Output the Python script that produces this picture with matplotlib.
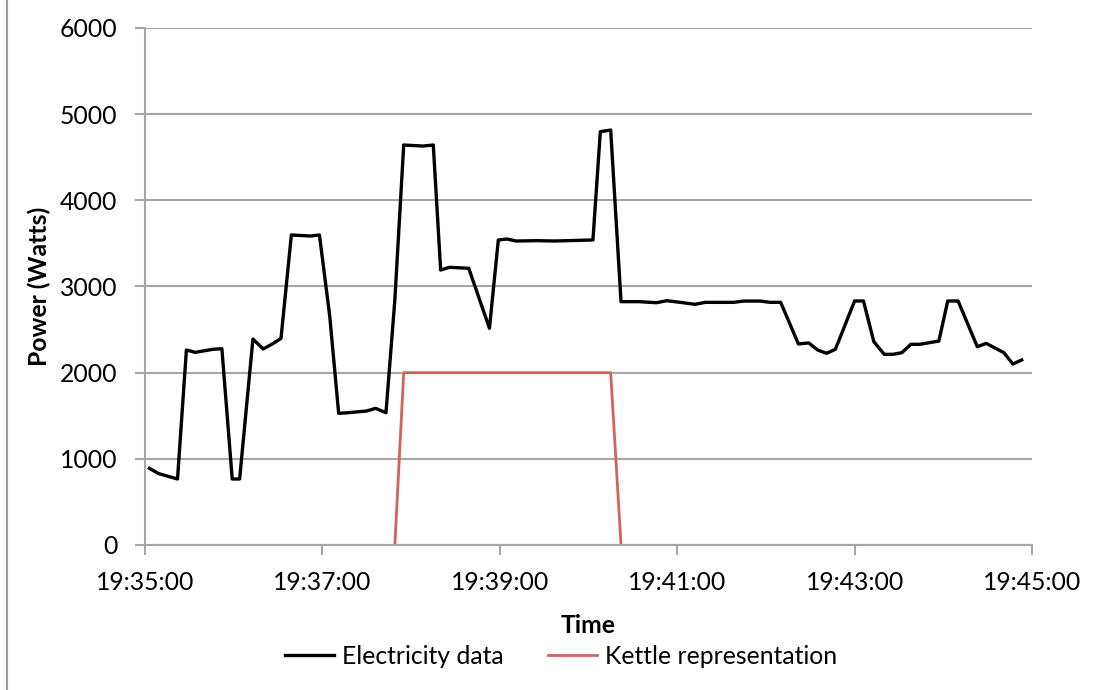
import matplotlib
matplotlib.use("Agg")
import matplotlib.pyplot as plt
import matplotlib.dates as mdates
from matplotlib.patches import Rectangle
import pandas as pd

######################################################################

elec_times = ["19:35:03", "19:35:09", "19:35:22", "19:35:28", "19:35:34", "19:35:46",
              "19:35:52", "19:35:59", "19:36:04", "19:36:13", "19:36:20", "19:36:26",
              "19:36:32", "19:36:39", "19:36:52", "19:36:58", "19:37:05", "19:37:11",
              "19:37:17", "19:37:30", "19:37:36", "19:37:43", "19:37:49", "19:37:55",
              "19:38:08", "19:38:15", "19:38:20", "19:38:26", "19:38:39", "19:38:53",
              "19:38:59", "19:39:05", "19:39:11", "19:39:25", "19:39:37", "19:40:03",
              "19:40:08", "19:40:15", "19:40:22", "19:40:34", "19:40:46", "19:40:53",
              "19:41:04", "19:41:12", "19:41:19", "19:41:38", "19:41:45", "19:41:56",
              "19:42:03", "19:42:10", "19:42:22", "19:42:29", "19:42:35", "19:42:41",
              "19:42:47", "19:43:00", "19:43:06", "19:43:13", "19:43:20", "19:43:26",
              "19:43:32", "19:43:38", "19:43:44", "19:43:57", "19:44:03", "19:44:10",
              "19:44:23", "19:44:29", "19:44:41", "19:44:47", "19:44:53"]
elec_watts = [890, 830, 766, 2263, 2236, 2271,
              2278, 766, 766, 2390, 2275, 2332,
              2398, 3598, 3586, 3598, 2650, 1528,
              1535, 1555, 1586, 1535, 2843, 4642,
              4630, 4642, 3191, 3223, 3211, 2515,
              3540, 3551, 3528, 3532, 3528, 3540,
              4797, 4816, 2824, 2824, 2812, 2835,
              2812, 2793, 2816, 2816, 2831, 2831,
              2816, 2816, 2333, 2345, 2263, 2225,
              2271, 2832, 2832, 2360, 2213, 2213,
              2232, 2329, 2329, 2367, 2832, 2832,
              2301, 2340, 2232, 2100, 2147]

# Idealised kettle load
kettle_times = ["19:37:49", "19:37:55", "19:40:15", "19:40:22"]
kettle_watts = [0, 2000, 2000, 0]

labels = ("Electricity data", "Kettle representation")
colors = ("black", "#D2625B")

######################################################################

def to_dt(ts):
    return pd.to_datetime(["2014-01-01 " + t for t in ts])

plt.rcParams['font.family'] = ['Lato', 'DejaVu Sans']
GRID = '#a6a6a6'
FS = 17.8

fig = plt.figure(figsize=(11.01, 6.9), dpi=100)
ax = fig.add_axes([145/1101, 1-545/690, 887/1101, 517/690])

ax.plot(to_dt(elec_times), elec_watts, color=colors[0], linewidth=2.4, label=labels[0], zorder=3)
ax.plot(to_dt(kettle_times), kettle_watts, color=colors[1], linewidth=2.0, label=labels[1], zorder=2)

# Axes:
ax.set_xlim(pd.Timestamp("2014-01-01 19:35:00"), pd.Timestamp("2014-01-01 19:45:00"))
ax.set_ylim(0, 6000)
ax.set_yticks(range(0, 6001, 1000))
ax.xaxis.set_major_locator(mdates.MinuteLocator(byminute=range(35, 46, 2)))
ax.xaxis.set_major_formatter(mdates.DateFormatter('%H:%M:%S'))
ax.yaxis.grid(True, color=GRID, linewidth=1.5)
ax.set_axisbelow(True)
for side in ('top', 'right'):
    ax.spines[side].set_visible(False)
for side in ('left', 'bottom'):
    ax.spines[side].set_color(GRID)
    ax.spines[side].set_linewidth(1.5)
ax.tick_params(axis='both', colors=GRID, width=1.5, length=7, labelsize=FS, labelcolor='black')
ax.tick_params(axis='x', pad=12)
ax.tick_params(axis='y', pad=13)
ax.set_xlabel("Time", fontsize=FS, fontweight='bold', labelpad=14)
ax.set_ylabel("Power (Watts)", fontsize=FS, fontweight='bold', labelpad=6)

fig.legend(loc='center', bbox_to_anchor=(561/1101, 1-656/690), ncol=2, frameon=False,
           fontsize=FS, handlelength=2.0, handletextpad=0.3, columnspacing=1.8)

# Chart area border (only the left edge falls inside the picture)
fig.patches.append(Rectangle((7/1101, -0.1), 1.2, 1.2, transform=fig.transFigure,
                             fill=False, edgecolor='#a0a0a0', linewidth=1.5))

plt.savefig("out.png", dpi=100)
